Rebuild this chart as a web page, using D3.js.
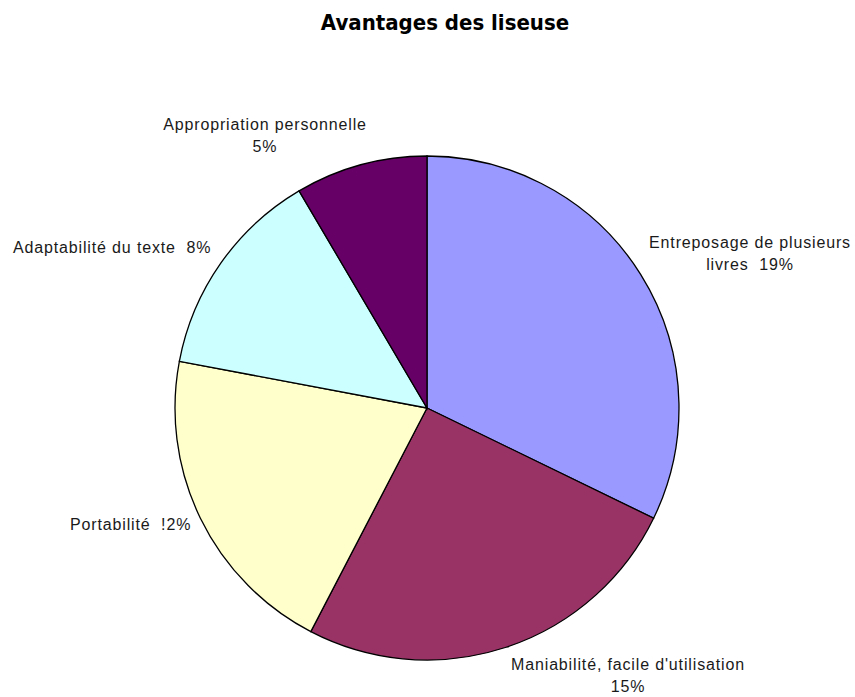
<!DOCTYPE html>
<html>
<head>
<meta charset="utf-8">
<script src="https://cdn.jsdelivr.net/npm/d3@7"></script>
<style>
  body { margin: 0; background: #fff; }
  svg { display: block; }
  text { white-space: pre; }
</style>
</head>
<body>
<div class="container-chart"></div>
<script>
// Chart data
var categories = ["Entreposage de plusieurs livres", "Maniabilité, facile d'utilisation", "Portabilité", "Adaptabilité du texte", "Appropriation personnelle"];
var values = [19, 15, 12, 8, 5];
var valueLabels = ["19%", "15%", "!2%", "8%", "5%"];
var colors = ["#9999ff", "#993366", "#ffffcc", "#ccffff", "#660066"];

// label text lines (as printed on the chart)
var labelLines = [
    ["Entreposage de plusieurs", "livres  19%"],
    ["Maniabilité, facile d'utilisation", "15%"],
    ["Portabilité  !2%"],
    ["Adaptabilité du texte  8%"],
    ["Appropriation personnelle", "5%"]
];

var width = 855, height = 697;
var cx = 427, cy = 408, radius = 252;

var svg = d3.select(".container-chart")
    .append("svg")
    .attr("width", width)
    .attr("height", height)
    .attr("viewBox", "0 0 855 697");

// Title
svg.append("text")
    .attr("x", 445)
    .attr("y", 30)
    .attr("text-anchor", "middle")
    .attr("font-family", "'DejaVu Sans Condensed', 'DejaVu Sans', sans-serif")
    .attr("font-weight", "bold")
    .attr("font-size", 22)
    .attr("fill", "#000")
    .text("Avantages des liseuse");

var pie = d3.pie().sort(null).value(function (d) { return d; });
var arc = d3.arc().innerRadius(0).outerRadius(radius);

var g = svg.append("g").attr("transform", "translate(" + cx + "," + cy + ")");

g.selectAll("path")
    .data(pie(values))
    .enter()
    .append("path")
    .attr("d", arc)
    .attr("fill", function (d, i) { return colors[i]; })
    .attr("stroke", "#000")
    .attr("stroke-width", 1.3);

// label placement: [x, y of first baseline, anchor]
var labelPlace = [
    [750, 248, "middle"],
    [628, 670, "middle"],
    [70, 530, "start"],
    [13, 253, "start"],
    [265, 130, "middle"]
];

labelLines.forEach(function (lines, i) {
    var p = labelPlace[i];
    var t = svg.append("text")
        .attr("font-family", "'Liberation Sans', Arial, sans-serif")
        .attr("font-size", 16)
        .attr("letter-spacing", 0.85)
        .attr("fill", "#1a1a1a")
        .attr("text-anchor", p[2]);
    lines.forEach(function (line, k) {
        t.append("tspan")
            .attr("x", p[0])
            .attr("y", p[1] + k * 22)
            .text(line);
    });
});
</script>
</body>
</html>
